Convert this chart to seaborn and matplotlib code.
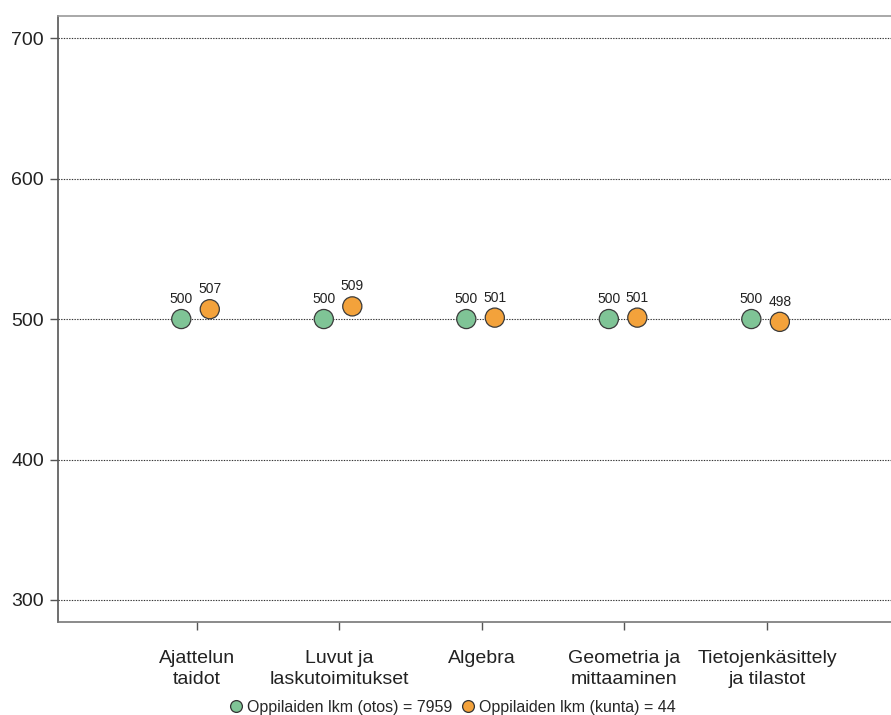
import matplotlib
matplotlib.use("Agg")
import matplotlib.pyplot as plt
import numpy as np
import pandas as pd
import seaborn as sns

categories = ["Ajattelun\ntaidot", "Luvut ja\nlaskutoimitukset", "Algebra",
              "Geometria ja\nmittaaminen", "Tietojenkäsittely\nja tilastot"]
otos = [500, 500, 500, 500, 500]
kunta = [507, 509, 501, 501, 498]
series_names = ["Oppilaiden lkm (otos) = 7959", "Oppilaiden lkm (kunta) = 44"]
yticks = [300, 400, 500, 600, 700]

green = "#7fc496"
orange = "#f3a23b"

sns.set_theme(style="white")
plt.rcParams["font.family"] = ["Liberation Sans", "DejaVu Sans"]

pos = np.arange(len(categories))
df = pd.DataFrame({
    "x": np.concatenate([pos - 0.11, pos + 0.09]),
    "y": otos + kunta,
    "group": [series_names[0]] * len(otos) + [series_names[1]] * len(kunta),
})

fig = plt.figure(figsize=(8.91, 7.15), dpi=100)
ax = fig.add_axes([0.0651, 0.13, 0.9349, 0.8476])

for yv in yticks:
    ax.axhline(yv, color="#333333", lw=0.8, ls=(0, (1.2, 1.2)), zorder=0)

sns.scatterplot(data=df, x="x", y="y", hue="group",
                palette=[green, orange], s=190, edgecolor="#3a3a3a",
                linewidth=0.9, ax=ax, legend=False, zorder=3)

for xv, yv in zip(df["x"], df["y"]):
    ax.annotate(str(yv), (xv, yv), xytext=(0, 11.5), textcoords="offset points",
                ha="center", va="baseline", fontsize=10, color="#222222")

ax.set_xlim(-0.975, 4.87)
ax.set_ylim(284.3, 715.7)
ax.set_yticks(yticks)
ax.set_yticklabels([str(v) for v in yticks], fontsize=14, color="#222222")
ax.set_xticks(pos)
ax.set_xticklabels(categories, fontsize=14, color="#222222", linespacing=1.3)
ax.tick_params(axis="y", length=6, width=1, color="#555555", pad=4, left=True)
ax.tick_params(axis="x", length=6, width=1, color="#555555", pad=14, bottom=True)
ax.set_xlabel("")
ax.set_ylabel("")

ax.spines["right"].set_visible(False)
ax.spines["left"].set_color("#555555")
ax.spines["top"].set_color("#999999")
ax.spines["bottom"].set_color("#777777")
for s in ["left", "top", "bottom"]:
    ax.spines[s].set_linewidth(1.2)

handles = [
    plt.Line2D([], [], marker="o", ls="", markersize=8.5, markerfacecolor=green,
               markeredgecolor="#333333", markeredgewidth=0.9),
    plt.Line2D([], [], marker="o", ls="", markersize=8.5, markerfacecolor=orange,
               markeredgecolor="#333333", markeredgewidth=0.9),
]
fig.legend(handles, series_names, loc="center", bbox_to_anchor=(0.507, 0.011),
           ncol=2, frameon=False, fontsize=11.5, handletextpad=0.2,
           columnspacing=0.5, handlelength=1.0, borderpad=0)

fig.savefig("out.png", dpi=100)
